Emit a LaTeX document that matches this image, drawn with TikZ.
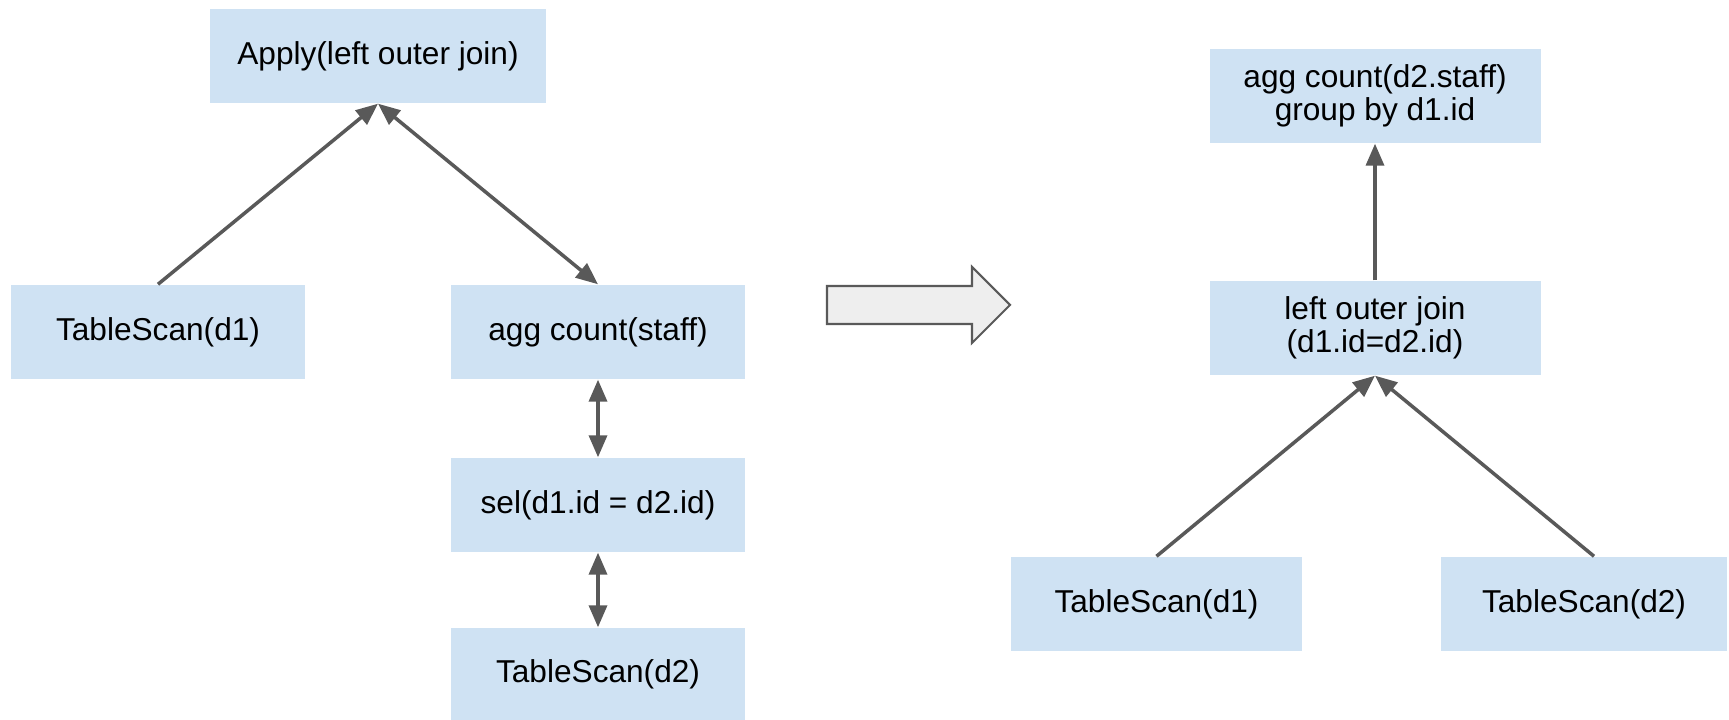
\documentclass[tikz,border=0pt]{standalone}
\usepackage{fontspec}
\setmainfont{Liberation Sans}
\usetikzlibrary{arrows.meta}
\definecolor{opblue}{HTML}{CFE2F3}
\definecolor{edgegray}{HTML}{595959}
\definecolor{bigarrow}{HTML}{EEEEEE}
\begin{document}
\begin{tikzpicture}[
  op/.style={rectangle,fill=opblue,inner sep=0pt,minimum height=0.94cm,align=center,
    font=\fontsize{9}{9.4}\selectfont},
  link/.style={line width=1pt,draw=edgegray,
    >={Triangle[length=2.2mm,width=1.8mm]}}]
\useasboundingbox (0,0) rectangle (17.29,7.2);
% left plan
\node (apply) [op,minimum width=3.36cm] at (3.78,6.64) {Apply(left outer join)};
\node (ts1) [op,minimum width=2.94cm] at (1.58,3.88) {TableScan(d1)};
\node (agg) [op,minimum width=2.94cm] at (5.98,3.88) {agg count(staff)};
\node (sel) [op,minimum width=2.94cm] at (5.98,2.15) {sel(d1.id = d2.id)};
\node (ts2) [op,minimum width=2.94cm,minimum height=0.92cm] at (5.98,0.46) {TableScan(d2)};
%
\draw[link,->] (ts1.north) -- (apply.south);
\draw[link,<->] (apply.south) -- (agg.north);
\draw[link,<->] (agg.south) -- (sel.north);
\draw[link,<->] (sel.south) -- (ts2.north);
% rewrite
\draw[fill=bigarrow,draw=edgegray,line width=0.6pt]
  (8.27,4.34) -- (9.72,4.34) -- (9.72,4.53) -- (10.10,4.15)
  -- (9.72,3.77) -- (9.72,3.96) -- (8.27,3.96) -- cycle;
% right plan
\node (top) [op,minimum width=3.31cm] at (13.75,6.24) {agg count(d2.staff)\\group by d1.id};
\node (join) [op,minimum width=3.31cm] at (13.75,3.92) {left outer join\\(d1.id=d2.id)};
\node (rs1) [op,minimum width=2.91cm] at (11.565,1.16) {TableScan(d1)};
\node (rs2) [op,minimum width=2.86cm] at (15.84,1.16) {TableScan(d2)};
%
\draw[link,->] (join.north) -- (top.south);
\draw[link,->] (rs1.north) -- (join.south);
\draw[link,->] ([xshift=1mm]rs2.north) -- (join.south);
\end{tikzpicture}
\end{document}
